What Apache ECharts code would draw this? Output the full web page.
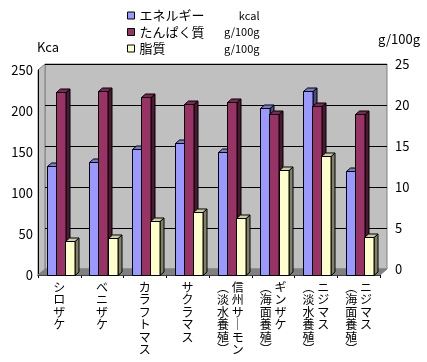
<!DOCTYPE html>
<html><head><meta charset="utf-8">
<script src="https://cdn.jsdelivr.net/npm/echarts@6/dist/echarts.min.js"></script>
<style>html,body{margin:0;padding:0;background:#fff}#c{width:427px;height:362px}</style>
</head><body><div id="c"></div>
<script>
const categories = ['シロザケ','ベニザケ','カラフトマス','サクラマス','信州サーモン（淡水養殖）','ギンザケ（海面養殖）','ニジマス（淡水養殖）','ニジマス（海面養殖）'];
const seriesNames = ['エネルギー','たんぱく質','脂質'];
const seriesUnits = ['kcal','g/100g','g/100g'];
const energy = [133, 138, 154, 161, 150, 204, 225, 127];
const protein = [22.3, 22.5, 21.7, 20.9, 21.1, 19.6, 20.6, 19.6];
const fat = [4.1, 4.5, 6.6, 7.7, 7.0, 12.8, 14.5, 4.6];

const FONT = '"Noto Sans CJK JP", "Noto Sans", sans-serif';
const faces = [
  {front:'#9999FF', top:'#7A7ACC', side:'#4C4C80'},
  {front:'#993366', top:'#7A2952', side:'#4C1933'},
  {front:'#FFFFCC', top:'#CCCCA3', side:'#808066'}
];

function vert(s){
  const map = {'ー':'｜','（':'︵','）':'︶'};
  const conv = t => Array.from(t).map(c => map[c] || c);
  const k = s.indexOf('（');
  if (k < 0) return conv(s).join('\n');
  const main = conv(s.slice(0,k)), sub = conv(s.slice(k));
  const n = Math.max(main.length, sub.length), rows = [];
  for (let i=0;i<n;i++) rows.push((sub[i]||'　') + ' ' + (main[i]||'　'));
  return rows.join('\n');
}

function bar3d(slot){
  const f = faces[slot];
  return function(params, api){
    const idx = api.value(0), v = api.value(1);
    const base = api.coord([idx, 0]);
    const tp = api.coord([idx, v]);
    const band = api.size([1,0])[0];
    const w = band*0.213, dx = 4, dy = 3.5;
    const x0 = Math.round(base[0] - band*0.3 + slot*w) + 0.5;
    const x1 = Math.round(x0 + w);
    const ty = Math.round(tp[1]) + 0.5, by = Math.round(base[1]) + 0.5;
    const st = {stroke:'#000', lineWidth:1};
    return {type:'group', children:[
      {type:'polygon', shape:{points:[[x1,ty],[x1+dx,ty-dy],[x1+dx,by-dy],[x1,by]]}, style:Object.assign({fill:f.side}, st)},
      {type:'polygon', shape:{points:[[x0,ty],[x0+dx,ty-dy],[x1+dx,ty-dy],[x1,ty]]}, style:Object.assign({fill:f.top}, st)},
      {type:'rect', shape:{x:x0, y:ty, width:x1-x0, height:by-ty}, style:Object.assign({fill:f.front}, st)}
    ]};
  };
}

const chart = echarts.init(document.getElementById('c'));
const dataSets = [energy, protein, fat];
chart.setOption({
  animation:false,
  backgroundColor:'#fff',
  textStyle:{fontFamily:FONT},
  title:[
    {text:'Kca', left:37, top:41, padding:0, textStyle:{fontSize:13, fontWeight:'normal', color:'#000', fontFamily:FONT}},
    {text:'g/100g', left:378, top:33, padding:0, textStyle:{fontSize:13, fontWeight:'normal', color:'#000', fontFamily:FONT}}
  ],
  legend:{
    orient:'vertical', left:127, top:9, padding:0, itemWidth:7, itemHeight:7, itemGap:3.5,
    data: seriesNames.map(n => ({name:n, icon:'rect', itemStyle:{borderColor:'#000', borderWidth:1}})),
    formatter: name => '{a|' + name + '}{b|' + seriesUnits[seriesNames.indexOf(name)] + '}',
    textStyle:{fontFamily:FONT, color:'#000', rich:{
      a:{width:82, fontSize:13, fontFamily:FONT, lineHeight:14},
      b:{width:38, align:'right', fontSize:11, fontFamily:FONT, lineHeight:14}
    }}
  },
  graphic:[
    {type:'polygon', z:-1, shape:{points:[[38,70],[45,64],[45,270],[38,276]]}, style:{fill:'#C0C0C0', stroke:'#808080', lineWidth:1}},
    {type:'polygon', z:1, shape:{points:[[38,275],[45,269],[387,269],[380,275]]}, style:{fill:'#808080', stroke:'#808080', lineWidth:1}}
  ],
  grid:[
    {left:38, right:47, top:70, bottom:87, z:3},
    {left:45, right:40, top:64, bottom:93, show:true, backgroundColor:'#C0C0C0', borderColor:'#808080', borderWidth:1, z:-2}
  ],
  xAxis:[
    {type:'category', gridIndex:0, data:categories, boundaryGap:true,
     axisLine:{show:true, lineStyle:{color:'#000', width:1}},
     axisTick:{show:true, length:3, lineStyle:{color:'#000'}},
     axisLabel:{interval:0, margin:6, formatter:vert, fontSize:12, lineHeight:12.5, color:'#000', fontFamily:FONT, verticalAlign:'top'},
     splitLine:{show:false}},
    {type:'category', gridIndex:1, data:categories, show:false}
  ],
  yAxis:[
    {type:'value', gridIndex:0, min:0, max:250, interval:50, position:'left',
     axisLine:{show:true, lineStyle:{color:'#000'}}, axisTick:{show:false},
     axisLabel:{fontSize:13, color:'#000', margin:5, fontFamily:FONT}, splitLine:{show:false}},
    {type:'value', gridIndex:0, min:0, max:25, interval:5, show:false, splitLine:{show:false}},
    {type:'value', gridIndex:1, min:0, max:25, interval:5, position:'right',
     axisLine:{show:false}, axisTick:{show:false},
     axisLabel:{fontSize:13, color:'#000', margin:8, fontFamily:FONT},
     splitLine:{show:true, lineStyle:{color:'#000', width:1}}}
  ],
  series: seriesNames.map((n, i) => ({
    name:n, type:'custom', coordinateSystem:'cartesian2d', xAxisIndex:0, yAxisIndex: i===0?0:1,
    itemStyle:{color:faces[i].front}, z:5,
    renderItem: bar3d(i),
    encode:{x:0, y:1},
    data: dataSets[i].map((v, k) => [k, v])
  }))
});
</script></body></html>
